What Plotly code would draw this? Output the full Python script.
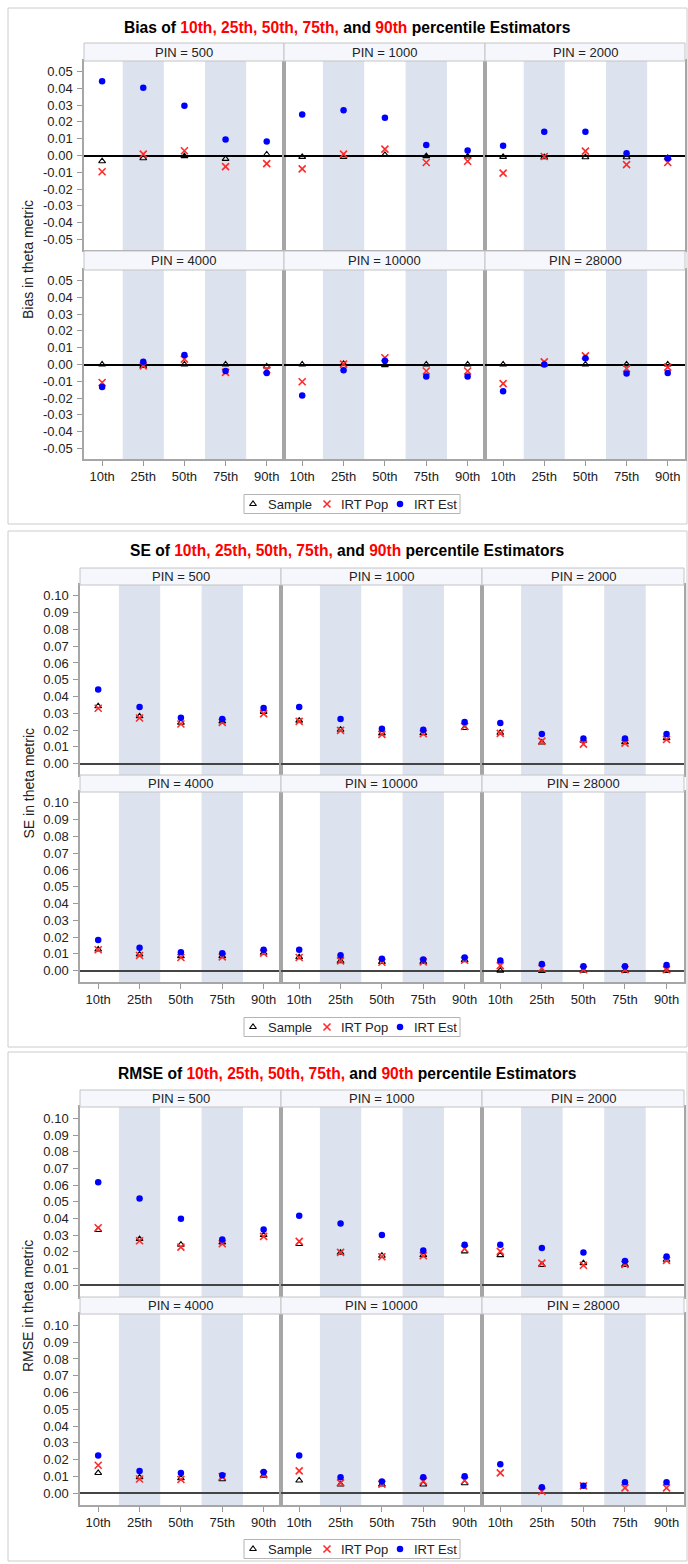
import plotly.graph_objects as go

# ---------------- data ----------------
pins = ["500", "1000", "2000", "4000", "10000", "28000"]
percentiles = ["10th", "25th", "50th", "75th", "90th"]
series_names = ["Sample", "IRT Pop", "IRT Est"]

bias_sample = [
    [-0.0034, -0.0016, -0.0004, -0.0020, 0.0006],
    [-0.0008, -0.0008, 0.0004, -0.0004, -0.0006],
    [-0.0008, -0.0010, -0.0010, -0.0010, -0.0014],
    [0.0000, -0.0008, 0.0000, 0.0000, -0.0012],
    [0.0000, 0.0004, -0.0004, 0.0000, 0.0000],
    [0.0000, 0.0000, 0.0000, 0.0000, 0.0000],
]
bias_pop = [
    [-0.0097, 0.0008, 0.0028, -0.0066, -0.0048],
    [-0.0080, 0.0008, 0.0038, -0.0042, -0.0034],
    [-0.0105, -0.0006, 0.0026, -0.0054, -0.0042],
    [-0.0107, -0.0008, 0.0032, -0.0047, -0.0032],
    [-0.0103, 0.0002, 0.0040, -0.0039, -0.0039],
    [-0.0114, 0.0016, 0.0051, -0.0024, -0.0016],
]
bias_est = [
    [0.0443, 0.0404, 0.0296, 0.0095, 0.0083],
    [0.0245, 0.0270, 0.0225, 0.0062, 0.0030],
    [0.0058, 0.0141, 0.0141, 0.0014, -0.0016],
    [-0.0134, 0.0016, 0.0057, -0.0039, -0.0051],
    [-0.0185, -0.0034, 0.0022, -0.0071, -0.0071],
    [-0.0160, 0.0000, 0.0037, -0.0053, -0.0051],
]

se_sample = [
    [0.0342, 0.0282, 0.0244, 0.0252, 0.0308],
    [0.0256, 0.0202, 0.0180, 0.0182, 0.0212],
    [0.0184, 0.0126, 0.0136, 0.0128, 0.0152],
    [0.0126, 0.0096, 0.0086, 0.0086, 0.0106],
    [0.0080, 0.0056, 0.0052, 0.0052, 0.0062],
    [0.0000, -0.0002, -0.0001, -0.0002, -0.0002],
]
se_pop = [
    [0.0330, 0.0272, 0.0236, 0.0246, 0.0298],
    [0.0252, 0.0198, 0.0174, 0.0178, 0.0222],
    [0.0180, 0.0134, 0.0116, 0.0122, 0.0144],
    [0.0124, 0.0090, 0.0078, 0.0082, 0.0104],
    [0.0078, 0.0058, 0.0050, 0.0052, 0.0062],
    [0.0030, 0.0014, 0.0006, 0.0006, 0.0006],
]
se_est = [
    [0.0442, 0.0338, 0.0274, 0.0266, 0.0332],
    [0.0338, 0.0266, 0.0208, 0.0202, 0.0248],
    [0.0242, 0.0176, 0.0150, 0.0150, 0.0176],
    [0.0182, 0.0136, 0.0110, 0.0104, 0.0124],
    [0.0124, 0.0092, 0.0070, 0.0066, 0.0078],
    [0.0060, 0.0040, 0.0026, 0.0026, 0.0034],
]

rmse_sample = [
    [0.0331, 0.0277, 0.0243, 0.0257, 0.0301],
    [0.0247, 0.0195, 0.0177, 0.0181, 0.0203],
    [0.0181, 0.0122, 0.0133, 0.0122, 0.0153],
    [0.0121, 0.0095, 0.0089, 0.0083, 0.0105],
    [0.0076, 0.0052, 0.0052, 0.0052, 0.0060],
    [None, None, None, None, None],
]
rmse_pop = [
    [0.0345, 0.0267, 0.0229, 0.0249, 0.0293],
    [0.0263, 0.0197, 0.0171, 0.0177, 0.0219],
    [0.0203, 0.0133, 0.0120, 0.0125, 0.0149],
    [0.0167, 0.0085, 0.0082, 0.0099, 0.0111],
    [0.0133, 0.0062, 0.0054, 0.0072, 0.0076],
    [0.0121, 0.0012, 0.0044, 0.0032, 0.0032],
]
rmse_est = [
    [0.0618, 0.0520, 0.0398, 0.0275, 0.0335],
    [0.0416, 0.0370, 0.0301, 0.0209, 0.0243],
    [0.0243, 0.0223, 0.0197, 0.0145, 0.0173],
    [0.0225, 0.0133, 0.0121, 0.0107, 0.0127],
    [0.0225, 0.0095, 0.0070, 0.0095, 0.0101],
    [0.0173, 0.0036, 0.0044, 0.0066, 0.0066],
]

bias_ticks = [-0.05, -0.04, -0.03, -0.02, -0.01, 0.00, 0.01, 0.02, 0.03, 0.04, 0.05]
pos_ticks = [0.00, 0.01, 0.02, 0.03, 0.04, 0.05, 0.06, 0.07, 0.08, 0.09, 0.10]

# ---------------- layout helpers ----------------
W, H = 688, 1564
FONT = "Liberation Sans, Arial, sans-serif"


def fx(p):
    return p / W


def fy(p):
    return 1 - p / H


def title_html(stat):
    red = "<span style='color:#ff0000'>%s</span>"
    return ("<b>%s of " % stat + red % "10th, 25th, 50th, 75th," + " and "
            + red % "90th" + " percentile Estimators</b>")


panels = [
    dict(stat="Bias", ytitle="Bias in theta metric",
         data=(bias_sample, bias_pop, bias_est),
         frame=(8, 8, 687, 524), title_y=28,
         rows=[(43, 61, 250), (251, 270, 459)],
         xcols=[84, 284, 485, 685],
         yrange=[-0.0563, 0.0563], ticks=bias_ticks,
         legend_y=504, zero_color="#000000"),
    dict(stat="SE", ytitle="SE in theta metric",
         data=(se_sample, se_pop, se_est),
         frame=(8, 531, 687, 1047), title_y=550,
         rows=[(568, 585, 775), (775, 792, 982)],
         xcols=[80, 281, 482, 684],
         yrange=[-0.0068, 0.1065], ticks=pos_ticks,
         legend_y=1027, zero_color="#444444"),
    dict(stat="RMSE", ytitle="RMSE in theta metric",
         data=(rmse_sample, rmse_pop, rmse_est),
         frame=(8, 1052, 687, 1561), title_y=1073,
         rows=[(1090, 1107, 1297), (1297, 1314, 1505)],
         xcols=[80, 281, 482, 684],
         yrange=[-0.007, 0.1068], ticks=pos_ticks,
         legend_y=1549, zero_color="#444444"),
]

markers = [
    dict(symbol="triangle-up-open", size=6, color="#000000", line=dict(width=1.1, color="#000000")),
    dict(symbol="x-thin-open", size=7, color="#ff2a2a", line=dict(width=1.6, color="#ff2a2a")),
    dict(symbol="circle", size=6.5, color="#0000ff", line=dict(width=0)),
]

# legend box geometry (pixels) and key/text offsets inside the box
LEG_X0, LEG_X1, LEG_H = 244, 460, 19
leg_key_off = [9, 83, 156]
leg_text_off = [22, 95, 168]

fig = go.Figure()
layout = dict(
    width=W, height=H, margin=dict(l=0, r=0, t=0, b=0),
    paper_bgcolor="white", plot_bgcolor="white",
    font=dict(family=FONT, size=13, color="#222222"),
    showlegend=False,
)
shapes = []
annotations = []

n = 0
for k, p in enumerate(panels):
    # outer frame
    x0, y0, x1, y1 = p["frame"]
    shapes.append(dict(type="rect", xref="paper", yref="paper",
                       x0=fx(x0), x1=fx(x1), y0=fy(y0), y1=fy(y1),
                       line=dict(color="#cccccc", width=1), fillcolor="rgba(0,0,0,0)", layer="below"))
    # title
    annotations.append(dict(text=title_html(p["stat"]), x=fx((x0 + x1) / 2), y=fy(p["title_y"]),
                            xref="paper", yref="paper", xanchor="center", yanchor="middle",
                            showarrow=False, font=dict(family=FONT, size=15.6, color="#000000")))
    # y title
    ymid = (p["rows"][0][1] + p["rows"][1][2]) / 2
    annotations.append(dict(text=p["ytitle"], x=fx(28), y=fy(ymid), xref="paper", yref="paper",
                            xanchor="center", yanchor="middle", textangle=-90, showarrow=False,
                            font=dict(family=FONT, size=14, color="#222222")))
    for r in range(2):
        htop, ptop, pbot = p["rows"][r]
        for c in range(3):
            n += 1
            pin_i = r * 3 + c
            xa = "xaxis" if n == 1 else "xaxis%d" % n
            ya = "yaxis" if n == 1 else "yaxis%d" % n
            xr = "x" if n == 1 else "x%d" % n
            yr = "y" if n == 1 else "y%d" % n
            cl, cr = p["xcols"][c], p["xcols"][c + 1]
            bottom_row = (r == 1)
            left_col = (c == 0)
            layout[xa] = dict(
                domain=[fx(cl), fx(cr)], anchor=yr, range=[-0.44, 4.42],
                tickmode="array", tickvals=list(range(len(percentiles))), ticktext=percentiles,
                showticklabels=bottom_row, ticks="outside" if bottom_row else "",
                ticklen=5, tickcolor="#999999", showgrid=False, zeroline=False,
                showline=True, mirror=True, linecolor="#a6a6a6", linewidth=1.5,
                tickfont=dict(family=FONT, size=13, color="#222222"), fixedrange=True,
            )
            layout[ya] = dict(
                domain=[fy(pbot), fy(ptop)], anchor=xr, range=p["yrange"],
                tickmode="array", tickvals=p["ticks"],
                ticktext=["%.2f" % t for t in p["ticks"]],
                showticklabels=left_col, ticks="outside" if left_col else "",
                ticklen=5, tickcolor="#999999", showgrid=False,
                zeroline=True, zerolinecolor=p["zero_color"], zerolinewidth=1.5,
                showline=True, mirror=True, linecolor="#a6a6a6", linewidth=1.5,
                tickfont=dict(family=FONT, size=13, color="#222222"), fixedrange=True,
                ticklabelstandoff=2,
            )
            # shaded bands
            for b0 in (0.5, 2.5):
                shapes.append(dict(type="rect", xref=xr, yref="%s domain" % yr,
                                   x0=b0, x1=b0 + 1, y0=0, y1=1,
                                   fillcolor="#dde3ee", line=dict(width=0), layer="below"))
            # header strip
            shapes.append(dict(type="rect", xref="paper", yref="paper",
                               x0=fx(cl), x1=fx(cr), y0=fy(ptop), y1=fy(htop),
                               fillcolor="#f5f7fc", line=dict(color="#c4c4c4", width=1), layer="above"))
            annotations.append(dict(text="PIN = %s" % pins[pin_i], x=fx((cl + cr) / 2), y=fy((htop + ptop) / 2),
                                    xref="paper", yref="paper", xanchor="center", yanchor="middle",
                                    showarrow=False, font=dict(family=FONT, size=13, color="#222222")))
            # data
            for s in range(3):
                fig.add_trace(go.Scatter(
                    x=list(range(len(percentiles))), y=p["data"][s][pin_i],
                    mode="markers", name=series_names[s], marker=markers[s],
                    xaxis=xr, yaxis=yr, hoverinfo="skip",
                ))

    # ---- legend (custom box under the panel) ----
    n += 1
    xa, ya = "xaxis%d" % n, "yaxis%d" % n
    xr, yr = "x%d" % n, "y%d" % n
    ly = p["legend_y"]
    layout[xa] = dict(domain=[fx(LEG_X0), fx(LEG_X1)], anchor=yr, range=[0, LEG_X1 - LEG_X0],
                      visible=False, fixedrange=True)
    layout[ya] = dict(domain=[fy(ly + LEG_H / 2), fy(ly - LEG_H / 2)], anchor=xr, range=[0, 1],
                      visible=False, fixedrange=True)
    shapes.append(dict(type="rect", xref="paper", yref="paper",
                       x0=fx(LEG_X0), x1=fx(LEG_X1), y0=fy(ly + LEG_H / 2), y1=fy(ly - LEG_H / 2),
                       line=dict(color="#b4b4b4", width=1), fillcolor="white", layer="below"))
    for s in range(3):
        fig.add_trace(go.Scatter(x=[leg_key_off[s]], y=[0.5], mode="markers", marker=markers[s],
                                 xaxis=xr, yaxis=yr, hoverinfo="skip", name=series_names[s]))
        annotations.append(dict(text=series_names[s], x=fx(LEG_X0 + leg_text_off[s]), y=fy(ly),
                                xref="paper", yref="paper", xanchor="left", yanchor="middle",
                                showarrow=False, font=dict(family=FONT, size=13, color="#222222")))

layout["shapes"] = shapes
layout["annotations"] = annotations
fig.update_layout(**layout)
fig.write_html("out.html")
